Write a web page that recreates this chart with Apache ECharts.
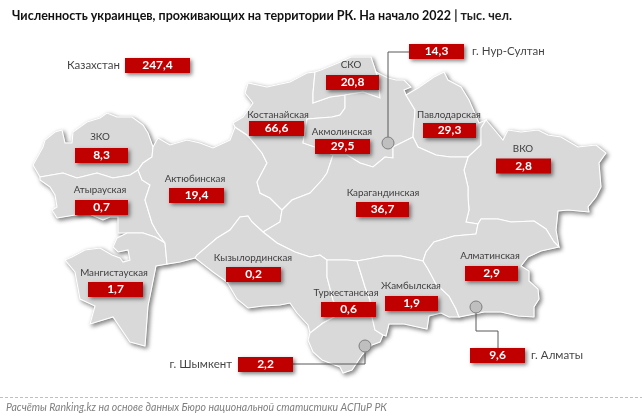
<!DOCTYPE html>
<html>
<head>
<meta charset="utf-8">
<script src="https://cdn.jsdelivr.net/npm/echarts@6/dist/echarts.min.js"></script>
<style>
html, body { margin: 0; padding: 0; background: #fff; }
#main { width: 642px; height: 419px; }
</style>
</head>
<body>
<div id="main"></div>
<script>
var labelNames = ['Казахстан', 'СКО', 'г. Нур-Султан', 'Костанайская', 'Акмолинская', 'Павлодарская', 'ВКО', 'ЗКО', 'Атырауская',
    'Актюбинская', 'Карагандинская', 'Мангистауская', 'Кызылординская', 'Туркестанская', 'Жамбылская', 'Алматинская', 'г. Алматы', 'г. Шымкент'];
var labelValues = [247.4, 20.8, 14.3, 66.6, 29.5, 29.3, 2.8, 8.3, 0.7, 19.4, 36.7, 1.7, 0.2, 0.6, 1.9, 2.9, 9.6, 2.2];

// layout of the plates and their captions, in picture pixels
var plateCenters = [[157.5, 65.5], [352.5, 82.5], [436.5, 51.5], [276.5, 128.5], [342.5, 146.5], [449.5, 130.5], [523.5, 166], [101.5, 155.5], [101.5, 207.5],
    [196.5, 195.5], [382.5, 209.5], [115.5, 289.5], [253.5, 274.5], [348.5, 309.5], [411.5, 303.5], [491.5, 273.5], [497.5, 355.5], [265.5, 364.5]];
var plateWidths = [65, 53, 55, 55, 55, 53, 55, 53, 53, 55, 53, 55, 55, 55, 53, 53, 55, 55];
var captionAnchors = [[120, 65], [351, 65], [472, 51], [278, 115], [342, 132], [449, 115], [523, 149], [100, 137], [100, 190],
    [195, 179], [383, 193], [114, 273], [253, 258], [346, 293], [411, 286], [490, 256], [531, 355], [232, 364]];
var captionAligns = { 'Казахстан': 'right', 'г. Шымкент': 'right', 'г. Нур-Султан': 'left', 'г. Алматы': 'left' };

var cityPoints = [[388, 143], [476, 307], [365, 346]];
var leaders = [
    [[388, 143], [388, 52], [409, 52]],
    [[476, 307], [476, 331], [498, 331], [498, 348]],
    [[365, 346], [365, 364], [293, 364]]
];

// region outlines
var regionShapes = {
    'ЗКО': [[33,165],[43,147],[45,140],[55,132],[62,130],[65,143],[72,143],[73,132],[87,122],[100,118],[107,113],[117,117],[132,117],[143,125],[148,133],[153,147],[152,157],[143,163],[138,170],[130,175],[113,178],[97,173],[77,178],[63,173],[40,177]],
    'Атырауская': [[40,177],[63,173],[77,178],[97,173],[113,178],[130,175],[138,170],[142,180],[150,185],[145,200],[152,223],[157,232],[165,243],[155,237],[143,233],[127,233],[118,233],[118,217],[110,217],[103,220],[87,213],[57,218],[52,210],[57,207],[55,195],[50,187],[40,180]],
    'Мангистауская': [[113,247],[117,238],[127,233],[143,233],[155,237],[165,243],[167,264],[156,266],[148,306],[145,346],[130,342],[113,317],[90,324],[95,306],[80,299],[75,272],[65,260],[72,257],[85,250],[100,248],[112,255],[120,258],[123,262],[130,260],[128,250],[118,252]],
    'Актюбинская': [[153,147],[158,138],[170,145],[187,140],[200,143],[213,148],[230,140],[235,127],[247,135],[253,142],[262,153],[267,163],[257,182],[260,193],[270,198],[282,210],[280,222],[263,232],[252,222],[248,216],[240,217],[230,230],[217,238],[197,255],[195,258],[180,262],[167,264],[165,243],[157,232],[152,223],[145,200],[150,185],[142,180],[138,170],[143,163],[152,157]],
    'Костанайская': [[233,123],[243,117],[253,103],[245,93],[248,83],[267,87],[290,82],[307,73],[315,72],[313,93],[313,103],[330,97],[345,95],[345,108],[340,115],[332,117],[307,119],[303,143],[315,147],[333,155],[327,173],[322,180],[310,193],[292,200],[282,210],[270,198],[260,193],[257,182],[267,163],[262,153],[253,142],[247,135],[235,127]],
    'СКО': [[315,72],[321,70],[338,63],[351,57],[371,57],[376,72],[378,78],[380,98],[363,92],[345,95],[330,97],[313,103],[313,93]],
    'Акмолинская': [[376,72],[388,78],[396,80],[404,80],[411,87],[404,90],[406,95],[415,110],[413,137],[393,147],[393,158],[385,157],[373,167],[360,163],[347,155],[333,155],[315,147],[303,143],[307,119],[332,117],[340,115],[345,108],[345,95],[363,92],[380,98],[378,78]],
    'Павлодарская': [[406,95],[418,88],[434,77],[444,72],[448,80],[461,87],[469,100],[479,123],[486,120],[481,128],[481,145],[468,157],[450,157],[436,155],[418,147],[413,137],[415,110]],
    'ВКО': [[486,120],[493,128],[503,140],[508,130],[521,132],[538,130],[548,135],[561,137],[578,147],[596,145],[606,153],[599,163],[601,187],[596,197],[588,207],[589,212],[568,210],[558,211],[556,230],[559,247],[554,242],[546,229],[534,221],[511,222],[498,219],[481,219],[478,224],[466,222],[469,210],[468,197],[468,187],[464,170],[468,157],[481,145],[481,128]],
    'Карагандинская': [[282,210],[292,200],[310,193],[322,180],[327,173],[333,155],[347,155],[360,163],[373,167],[385,157],[393,158],[393,147],[413,137],[418,147],[436,155],[450,157],[468,157],[464,170],[468,187],[468,197],[469,210],[466,222],[478,224],[476,234],[454,236],[434,242],[426,252],[423,261],[401,256],[384,256],[357,261],[347,260],[327,260],[320,255],[310,257],[295,252],[277,243],[263,232],[280,222]],
    'Кызылординская': [[195,258],[197,255],[217,238],[230,230],[240,217],[248,216],[252,222],[263,232],[277,243],[295,252],[310,257],[320,255],[327,260],[327,277],[333,300],[340,314],[323,323],[310,333],[308,325],[297,313],[290,303],[280,305],[263,306],[248,308],[237,299],[227,282],[213,272]],
    'Туркестанская': [[327,260],[347,260],[357,261],[362,277],[365,287],[370,300],[372,317],[375,330],[383,335],[380,342],[372,345],[362,355],[352,370],[343,373],[340,367],[322,360],[313,352],[308,340],[310,333],[323,323],[340,314],[333,300],[327,277]],
    'Жамбылская': [[357,261],[384,256],[401,256],[423,261],[428,269],[436,284],[449,296],[456,309],[459,317],[449,317],[441,313],[429,316],[427,329],[404,324],[389,324],[386,336],[383,335],[375,330],[372,317],[370,300],[365,287],[362,277]],
    'Алматинская': [[423,261],[426,252],[434,242],[454,236],[476,234],[478,224],[481,219],[498,219],[511,222],[534,221],[546,229],[554,242],[559,247],[541,251],[528,257],[521,266],[529,271],[529,281],[538,289],[539,299],[534,307],[534,317],[518,316],[501,312],[484,312],[459,317],[456,309],[449,296],[436,284],[428,269]]
};

var titleMain = 'Численность украинцев, проживающих на территории РК. На начало 2022';
var titleUnit = 'тыс. чел.';
var sourceText = 'Расчёты Ranking.kz на основе данных Бюро национальной статистики АСПиР РК';

var fontName = 'Lato, "Noto Sans", sans-serif';

var features = [];
for (var name in regionShapes) {
    features.push({
        type: 'Feature',
        properties: { name: name },
        geometry: { type: 'Polygon', coordinates: [regionShapes[name].concat([regionShapes[name][0]])] }
    });
}
echarts.registerMap('kz', { type: 'FeatureCollection', features: features });

function geoLayer(style) {
    return {
        map: 'kz',
        projection: {
            project: function (p) { return [p[0], p[1]]; },
            unproject: function (p) { return [p[0], p[1]]; }
        },
        boundingCoords: [[0, 0], [642, 419]],
        left: 0,
        top: 0,
        width: 642,
        height: 419,
        roam: false,
        silent: true,
        label: { show: false },
        itemStyle: style
    };
}

var plates = labelNames.map(function (n, i) {
    return {
        name: n,
        value: [plateCenters[i][0], plateCenters[i][1], labelValues[i]],
        symbolSize: [plateWidths[i], 15]
    };
});
var captions = labelNames.map(function (n, i) {
    var isCity = n.indexOf('г. ') === 0 || n === 'Казахстан';
    return {
        name: n,
        value: captionAnchors[i],
        label: { align: captionAligns[n] || 'center', fontSize: isCity ? 11.5 : 9.8 }
    };
});

var myChart = echarts.init(document.getElementById('main'), null, { renderer: 'canvas' });
myChart.setOption({
    animation: false,
    backgroundColor: '#fff',
    title: {
        left: 7,
        top: 4,
        text: '{b|' + titleMain + '}{s| | }{u|' + titleUnit + '}',
        textStyle: {
            rich: {
                b: { fontFamily: fontName, fontSize: 12.5, fontWeight: 'bold', color: '#111' },
                s: { fontFamily: fontName, fontSize: 12.5, color: '#111' },
                u: { fontFamily: fontName, fontSize: 12.5, color: '#222' }
            }
        }
    },
    geo: [
        // lower layer only throws the shadow, so it does not fall on neighbouring regions
        geoLayer({ areaColor: '#d9d9d9', borderColor: '#d9d9d9', borderWidth: 1, shadowColor: 'rgba(0,0,0,0.5)', shadowBlur: 4, shadowOffsetX: 2, shadowOffsetY: 2 }),
        geoLayer({ areaColor: '#d9d9d9', borderColor: '#fff', borderWidth: 1.1 })
    ],
    series: [{
        type: 'lines',
        coordinateSystem: 'geo',
        geoIndex: 1,
        polyline: true,
        silent: true,
        z: 3,
        lineStyle: { color: '#595959', width: 1, opacity: 1 },
        data: leaders.map(function (l) { return { coords: l }; })
    }, {
        type: 'scatter',
        coordinateSystem: 'geo',
        geoIndex: 1,
        silent: true,
        z: 4,
        symbol: 'circle',
        symbolSize: 12,
        itemStyle: { color: '#bfbfbf', borderColor: '#7f7f7f', borderWidth: 1, opacity: 1 },
        data: cityPoints
    }, {
        type: 'scatter',
        coordinateSystem: 'geo',
        geoIndex: 1,
        silent: true,
        z: 5,
        symbol: 'rect',
        itemStyle: { color: '#c00000', opacity: 1, shadowColor: 'rgba(0,0,0,0.5)', shadowBlur: 4, shadowOffsetX: 2, shadowOffsetY: 2 },
        label: {
            show: true,
            position: 'inside',
            color: '#fff',
            fontFamily: fontName,
            fontWeight: 'bold',
            fontSize: 12,
            formatter: function (p) { return String(p.value[2].toFixed(1)).replace('.', ','); }
        },
        data: plates
    }, {
        type: 'scatter',
        coordinateSystem: 'geo',
        geoIndex: 1,
        silent: true,
        z: 6,
        symbolSize: 1,
        itemStyle: { color: 'transparent' },
        label: {
            show: true,
            position: 'inside',
            color: '#111',
            fontFamily: fontName,
            formatter: '{b}'
        },
        data: captions
    }],
    graphic: [{
        type: 'line',
        silent: true,
        shape: { x1: 0, y1: 397.5, x2: 642, y2: 397.5 },
        style: { stroke: '#bfbfbf', lineWidth: 1, lineDash: [3, 2] }
    }, {
        type: 'text',
        silent: true,
        left: 6,
        top: 402,
        style: { text: sourceText, fill: '#7f7f7f', font: 'italic 10.5px ' + fontName }
    }]
});
</script>
</body>
</html>
